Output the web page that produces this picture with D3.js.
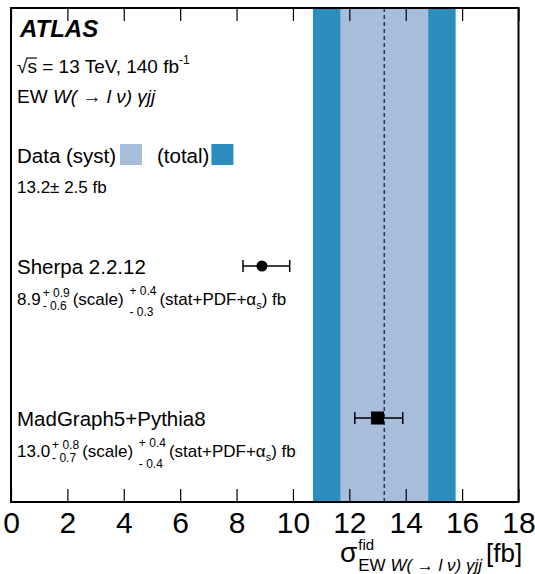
<!DOCTYPE html>
<html>
<head>
<meta charset="utf-8">
<script src="https://cdn.jsdelivr.net/npm/d3@7"></script>
<style>
  body { margin: 0; background: #fff; }
  text { font-family: "Liberation Sans", Arial, sans-serif; fill: #000; }
</style>
</head>
<body>
<svg id="chart"></svg>
<script>
// measured cross section [fb]
const dataCentral = 13.24;
const dataTotal = 2.53;
const dataSyst = 1.56;

// predictions [fb]
const predNames = ["Sherpa 2.2.12", "MadGraph5+Pythia8"];
const predCentral = [8.9, 13.0];
const predScaleUp = [0.9, 0.8];
const predScaleDn = [0.6, 0.7];
const predStatUp = [0.4, 0.4];
const predStatDn = [0.3, 0.4];

const majorTicks = [0, 2, 4, 6, 8, 10, 12, 14, 16, 18];
const minorTicks = d3.range(0, 18.01, 0.5);

const W = 535, H = 574;
const frame = { left: 11, right: 518.5, top: 8, bottom: 502 };
const cLight = "#a6bddb", cDark = "#2b8cbe";

const svg = d3.select("#chart").attr("width", W).attr("height", H);

const x = d3.scaleLinear().domain([0, 18]).range([frame.left, frame.right]);
const yRow = d3.scaleOrdinal().domain(predNames).range([266, 418]);

// bands
svg.append("rect")
  .attr("x", x(dataCentral - dataTotal)).attr("y", frame.top)
  .attr("width", x(dataCentral + dataTotal) - x(dataCentral - dataTotal))
  .attr("height", frame.bottom - frame.top)
  .attr("fill", cDark);
svg.append("rect")
  .attr("x", x(dataCentral - dataSyst)).attr("y", frame.top)
  .attr("width", x(dataCentral + dataSyst) - x(dataCentral - dataSyst))
  .attr("height", frame.bottom - frame.top)
  .attr("fill", cLight);
svg.append("line")
  .attr("x1", x(dataCentral)).attr("x2", x(dataCentral))
  .attr("y1", frame.top).attr("y2", frame.bottom)
  .attr("stroke", "#333").attr("stroke-width", 1.5)
  .attr("stroke-dasharray", "4,3");

// axes, ticks inward on top and bottom
const gB = svg.append("g").attr("transform", `translate(0,${frame.bottom})`);
gB.call(d3.axisBottom(x).tickValues(minorTicks).tickSizeInner(-7).tickSizeOuter(0).tickFormat(""));
gB.call(d3.axisBottom(x).tickValues(majorTicks).tickSizeInner(-13).tickSizeOuter(0).tickPadding(10));
gB.selectAll("text").attr("font-size", 30).attr("font-family", "Liberation Sans, Arial, sans-serif");

const gT = svg.append("g").attr("transform", `translate(0,${frame.top})`);
gT.call(d3.axisTop(x).tickValues(minorTicks).tickSizeInner(-7).tickSizeOuter(0).tickFormat(""));
gT.call(d3.axisTop(x).tickValues(majorTicks).tickSizeInner(-13).tickSizeOuter(0).tickFormat(""));

svg.selectAll(".domain").remove();
svg.selectAll(".tick line").attr("stroke", "#000").attr("stroke-width", 1.2);

svg.append("rect")
  .attr("x", frame.left).attr("y", frame.top)
  .attr("width", frame.right - frame.left).attr("height", frame.bottom - frame.top)
  .attr("fill", "none").attr("stroke", "#000").attr("stroke-width", 2);

// write text pieces one after another, returns end x
function rich(x0, y, parts) {
  let cx = x0;
  parts.forEach(p => {
    if (p.stack) {
      const a = svg.append("text").attr("x", cx).attr("y", y + p.off[0]).attr("font-size", 12).text(p.stack[0]);
      const b = svg.append("text").attr("x", cx).attr("y", y + p.off[1]).attr("font-size", 12).text(p.stack[1]);
      cx += Math.max(a.node().getComputedTextLength(), b.node().getComputedTextLength()) + 3;
    } else {
      const t = svg.append("text").attr("x", cx).attr("y", y + (p.dy || 0))
        .attr("font-size", p.size)
        .attr("font-style", p.italic ? "italic" : null)
        .attr("font-weight", p.bold ? "bold" : null)
        .style("white-space", "pre")
        .text(p.t);
      cx += t.node().getComputedTextLength() + (p.gap || 0);
    }
  });
  return cx;
}

// header
rich(20, 37, [{ t: "ATLAS", size: 24, bold: true, italic: true }]);
const sx = rich(17, 73, [{ t: "\u221A", size: 19 }]);
const sEnd = rich(sx, 73, [{ t: "s", size: 19 }]);
svg.append("line").attr("x1", sx - 1).attr("x2", sEnd).attr("y1", 58).attr("y2", 58)
  .attr("stroke", "#000").attr("stroke-width", 1.2);
rich(sEnd, 73, [{ t: " = 13 TeV, 140 fb", size: 19 }, { t: "-1", size: 12, dy: -9 }]);
rich(17, 103, [{ t: "EW ", size: 19 }, { t: "W( \u2192 l \u03BD) \u03B3jj", size: 19, italic: true }]);

// data legend
rich(17, 163, [{ t: "Data (syst)", size: 20.5 }]);
svg.append("rect").attr("x", 120).attr("y", 144).attr("width", 22).attr("height", 21).attr("fill", cLight);
const lx = rich(157, 163, [{ t: "(total)", size: 20.5 }]);
svg.append("rect").attr("x", lx + 2).attr("y", 144).attr("width", 22).attr("height", 21).attr("fill", cDark);
rich(17, 193, [{ t: dataCentral.toFixed(1), size: 17 }, { t: "\u00B1 ", size: 17 }, { t: `${dataTotal.toFixed(1)} fb`, size: 17 }]);

// predictions
predNames.forEach((name, i) => {
  const y = yRow(name);
  rich(17, y + 8, [{ t: name, size: 20.5 }]);
  rich(17, y + 39, [
    { t: predCentral[i].toFixed(1), size: 17, gap: 2 },
    { stack: [`+ ${predScaleUp[i].toFixed(1)}`, `- ${predScaleDn[i].toFixed(1)}`], off: [-8, 5] },
    { t: "(scale) ", size: 17, gap: 1 },
    { stack: [`+ ${predStatUp[i].toFixed(1)}`, `- ${predStatDn[i].toFixed(1)}`], off: [-10, 11] },
    { t: "(stat+PDF+\u03B1", size: 17 },
    { t: "s", size: 11, dy: 4 },
    { t: ") fb", size: 17 }
  ]);

  // total theory error = scale and stat+PDF in quadrature
  const up = Math.hypot(predScaleUp[i], predStatUp[i]);
  const dn = Math.hypot(predScaleDn[i], predStatDn[i]);
  const g = svg.append("g").attr("stroke", "#000").attr("stroke-width", 1.5);
  g.append("line").attr("x1", x(predCentral[i] - dn)).attr("x2", x(predCentral[i] + up)).attr("y1", y).attr("y2", y);
  [predCentral[i] - dn, predCentral[i] + up].forEach(v => {
    g.append("line").attr("x1", x(v)).attr("x2", x(v)).attr("y1", y - 6).attr("y2", y + 6);
  });
  if (i === 0) {
    svg.append("circle").attr("cx", x(predCentral[i])).attr("cy", y).attr("r", 5.5).attr("fill", "#000");
  } else {
    svg.append("rect").attr("x", x(predCentral[i]) - 6.5).attr("y", y - 6.5)
      .attr("width", 13).attr("height", 13).attr("fill", "#000");
  }
});

// axis title
const tx = rich(340, 562, [{ t: "\u03C3", size: 28 }]);
rich(tx + 1, 550, [{ t: "fid", size: 15 }]);
rich(tx + 1, 571, [{ t: "EW ", size: 17 }, { t: "W( \u2192 l \u03BD) \u03B3jj", size: 17, italic: true }]);
rich(486, 562, [{ t: "[fb]", size: 26 }]);
</script>
</body>
</html>
